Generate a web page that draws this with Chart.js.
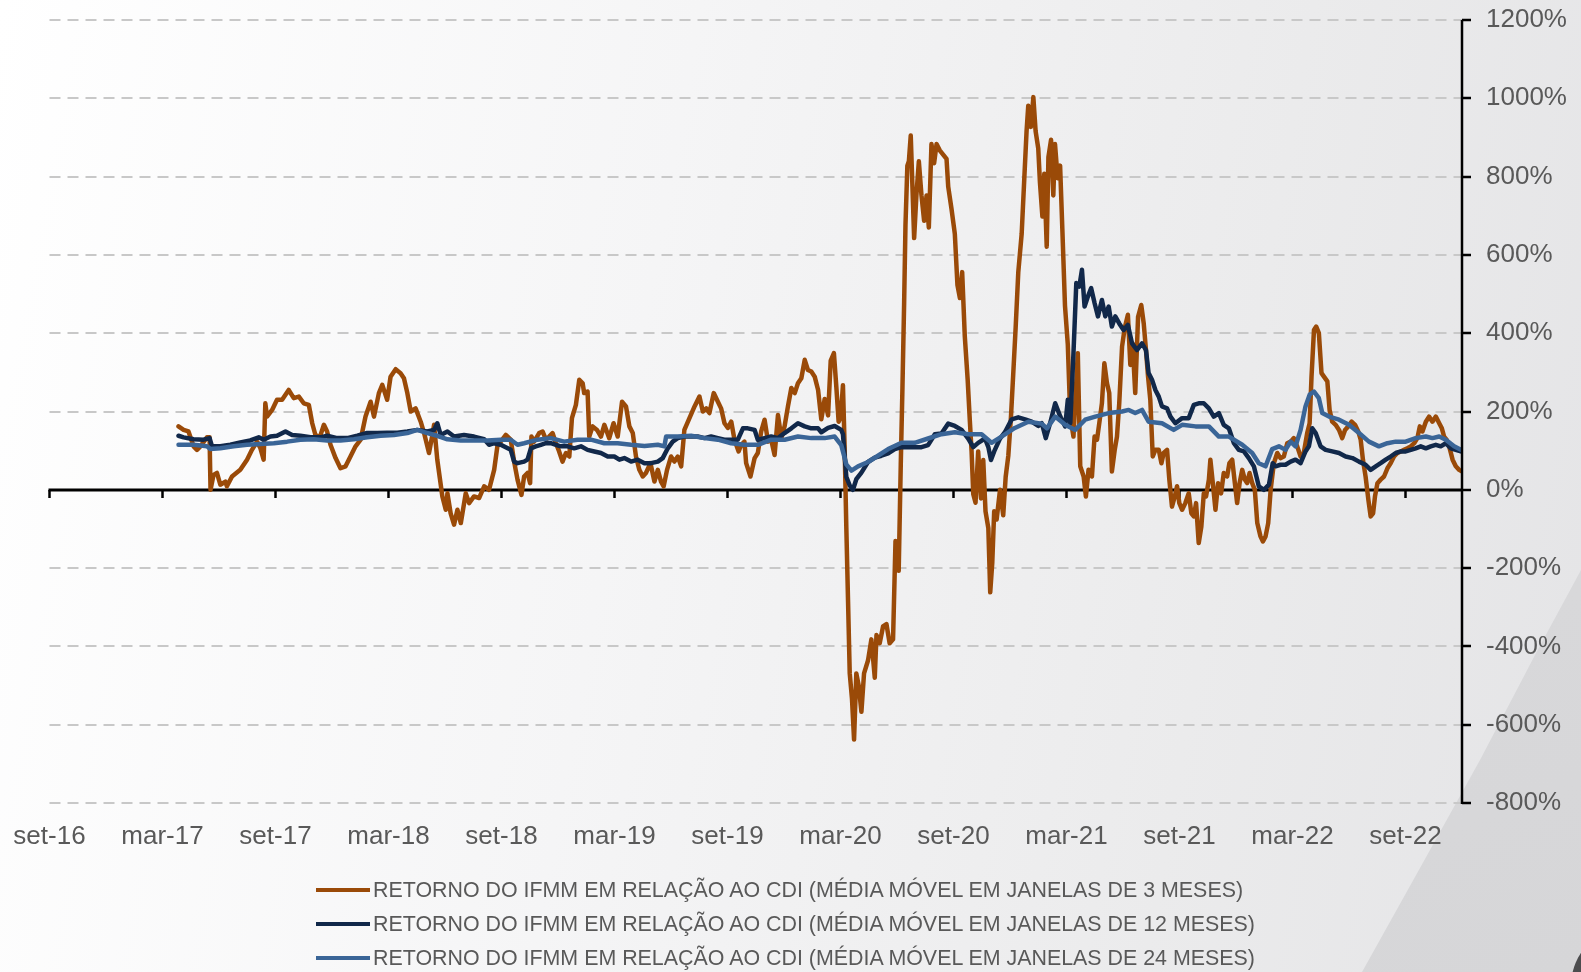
<!DOCTYPE html>
<html>
<head>
<meta charset="utf-8">
<script src="https://cdn.jsdelivr.net/npm/chart.js@4.4.1/dist/chart.umd.min.js"></script>
<style>
  html, body { margin: 0; padding: 0; }
  body { width: 1581px; height: 972px; overflow: hidden; position: relative;
    background: linear-gradient(100deg, #ffffff 0%, #f5f5f6 40%, #ebebec 75%, #e4e4e6 100%);
    font-family: "Liberation Sans", Arial, sans-serif; }
  #wedge { position: absolute; left: 0; top: 0; width: 1581px; height: 972px;
    background: linear-gradient(160deg, #dedee0 0%, #d6d6d8 100%);
    clip-path: polygon(1581px 570px, 1581px 972px, 1362px 972px, 1420px 868px, 1480px 760px, 1535px 655px); }
  #corner { position: absolute; left: 1571px; top: 926px; width: 60px; height: 120px;
    border-radius: 60px 0 0 0; background: #4c4c4e; }
  #wrap { position: absolute; left: 0; top: 0; width: 1581px; height: 972px; }
  .leg { position: absolute; left: 316px; height: 34px; display: flex; align-items: center;
    font-size: 21.4px; color: #595959; white-space: nowrap; }
  .leg span.sw { display: inline-block; width: 54px; height: 4px; margin-right: 3px; }
</style>
</head>
<body>
<div id="wedge"></div>
<div id="corner"></div>
<div id="wrap"><canvas id="c"></canvas></div>
<div class="leg" style="top:873px"><span class="sw" style="background:#9a4a08"></span>RETORNO DO IFMM EM RELAÇÃO AO CDI (MÉDIA MÓVEL EM JANELAS DE 3 MESES)</div>
<div class="leg" style="top:907px"><span class="sw" style="background:#11284a"></span>RETORNO DO IFMM EM RELAÇÃO AO CDI (MÉDIA MÓVEL EM JANELAS DE 12 MESES)</div>
<div class="leg" style="top:941px"><span class="sw" style="background:#3a6597"></span>RETORNO DO IFMM EM RELAÇÃO AO CDI (MÉDIA MÓVEL EM JANELAS DE 24 MESES)</div>
<script>
// x = months since set-16
const xTickLabels = ['set-16','mar-17','set-17','mar-18','set-18','mar-19','set-19','mar-20','set-20','mar-21','set-21','mar-22','set-22'];
const xTickMonths = [0,6,12,18,24,30,36,42,48,54,60,66,72];

const m3Months = [6.85,7.12,7.38,7.65,7.83,8.01,8.36,8.50,8.55,8.71,8.89,9.07,9.34,9.42,9.69,10.13,10.49,10.75,11.02,11.20,11.37,11.46,11.55,11.82,12.08,12.35,12.70,12.97,13.24,13.50,13.77,13.95,14.12,14.35,14.57,14.74,14.92,15.19,15.45,15.72,15.98,16.25,16.52,16.78,17.05,17.23,17.49,17.67,17.93,18.11,18.38,18.64,18.82,19.00,19.18,19.44,19.71,19.89,20.15,20.33,20.42,20.59,20.86,21.04,21.13,21.30,21.48,21.66,21.84,22.10,22.28,22.54,22.81,23.08,23.34,
23.61,23.78,23.96,24.23,24.49,24.67,24.85,25.06,25.20,25.38,25.52,25.59,25.73,26.00,26.18,26.36,26.53,26.71,26.89,27.06,27.24,27.42,27.60,27.74,27.95,28.13,28.31,28.39,28.57,28.66,28.84,29.07,29.28,29.46,29.72,29.95,30.17,30.40,30.61,30.79,30.97,31.14,31.32,31.50,31.67,31.91,32.12,32.30,32.47,32.61,32.79,33.00,33.18,33.36,33.54,33.71,33.98,34.25,34.51,34.69,34.87,35.04,35.27,35.49,35.66,35.84,36.02,36.20,36.37,36.59,36.73,36.90,36.99,37.22,37.44,37.61,37.79,37.97,38.15,38.32,38.50,38.68,38.86,39.03,39.21,39.39,39.57,39.74,39.92,40.10,40.27,40.45,40.63,40.81,
40.98,41.16,41.34,41.48,41.65,41.78,41.90,42.01,42.13,42.22,42.31,42.40,42.49,42.61,42.72,42.84,42.97,43.11,43.25,43.46,43.64,43.82,43.91,44.08,44.26,44.44,44.61,44.79,44.92,45.09,45.20,45.29,45.38,45.45,45.55,45.63,45.73,45.82,45.91,46.03,46.16,46.30,46.44,46.57,46.69,46.83,46.97,47.10,47.27,47.45,47.63,47.72,47.89,48.07,48.21,48.34,48.46,48.60,48.75,48.87,48.96,49.05,49.17,49.31,49.46,49.58,49.70,49.85,49.95,50.06,50.16,50.29,50.47,50.64,50.77,50.91,51.05,51.17,51.30,51.44,51.62,51.76,51.88,51.97,52.11,52.24,52.36,52.50,52.59,52.72,52.82,52.95,53.04,53.18,53.30,53.39,53.53,53.66,53.78,53.92,
54.07,54.20,54.37,54.60,54.73,54.91,55.03,55.17,55.35,55.49,55.62,55.74,55.88,56.01,56.15,56.27,56.41,56.56,56.68,56.80,56.95,57.09,57.26,57.39,57.51,57.65,57.80,57.97,58.10,58.22,58.33,58.45,58.58,58.72,58.90,59.04,59.16,59.34,59.46,59.60,59.75,59.87,59.99,60.14,60.31,60.49,60.63,60.76,60.88,61.02,61.16,61.29,61.41,61.56,61.64,61.77,61.91,62.05,62.21,62.35,62.53,62.65,62.80,62.94,63.06,63.19,63.33,63.47,63.59,63.72,63.86,64.00,64.13,64.30,64.43,64.57,64.71,64.84,
65.01,65.19,65.36,65.54,65.72,65.90,66.07,66.25,66.43,66.60,66.78,66.91,67.01,67.14,67.26,67.40,67.54,67.67,67.85,67.97,68.11,68.29,68.47,68.64,68.79,68.96,69.14,69.32,69.49,69.62,69.74,69.88,70.03,70.15,70.28,70.38,70.51,70.68,70.86,71.04,71.21,71.39,71.57,71.75,71.92,72.10,72.28,72.46,72.63,72.76,72.90,73.08,73.25,73.43,73.61,73.79,73.93,74.05,74.18,74.32,74.50,74.67,74.85,74.99];
const m3Values = [162,153,149,111,102,111,134,134,0,38,43,13,21,9,34,51,77,102,123,106,77,221,187,204,230,230,255,234,238,221,217,170,140,134,166,149,115,81,55,60,85,111,128,187,225,187,247,268,230,289,308,298,285,247,200,208,174,145,94,140,166,77,-17,-51,-9,-60,-89,-51,-85,-9,-34,-17,-21,9,0,
51,111,123,140,128,72,26,-13,34,43,17,136,123,145,149,128,136,145,119,98,72,94,85,183,217,281,272,247,251,136,162,153,136,166,132,170,136,225,213,162,145,85,51,34,43,68,21,51,21,9,51,85,72,85,60,153,183,213,238,200,208,196,247,225,208,170,158,174,128,98,115,123,68,34,81,94,149,179,123,128,89,191,132,162,213,260,247,272,285,332,306,302,289,255,
180,232,190,330,349,262,174,185,267,109,-98,-283,-469,-534,-638,-469,-501,-567,-469,-436,-382,-480,-371,-392,-349,-343,-392,-382,-131,-207,65,262,480,676,828,839,905,774,643,752,839,752,687,752,670,883,834,883,867,856,845,774,719,654,523,490,556,392,283,174,98,-11,-33,98,-22,76,-55,-98,-262,-185,-55,-76,0,-65,33,87,185,294,414,556,654,796,916,981,927,1003,916,872,785,698,807,621,850,894,752,883,796,828,665,470,
370,187,136,349,60,34,-17,51,34,136,128,170,221,323,272,247,47,102,136,221,366,413,447,319,374,247,442,472,425,357,289,230,85,102,102,68,94,102,26,-43,-17,9,-34,-51,-34,-9,-60,-68,-34,-136,-94,-9,-17,26,77,17,-51,17,-9,43,34,68,77,17,-34,17,51,26,17,43,17,0,-85,-119,-132,-119,-85,0,
68,94,81,85,119,123,132,111,85,94,145,170,289,408,417,400,298,289,277,204,174,166,153,132,153,162,174,166,149,128,77,34,-26,-68,-60,-17,17,26,34,55,68,85,94,98,102,106,111,119,132,162,149,174,187,174,187,170,157,136,128,111,77,60,51,47];

const m12Months = [6.85,7.12,7.65,8.18,8.50,8.63,9.07,9.60,10.13,10.66,11.11,11.37,11.73,12.08,12.53,12.88,13.32,13.86,14.39,14.74,15.28,15.81,16.34,16.87,17.40,17.93,18.47,19.00,19.53,20.06,20.42,20.59,20.77,21.13,21.48,22.01,22.54,23.08,23.34,
23.61,23.96,24.49,24.67,24.85,25.20,25.38,25.56,25.82,26.09,26.36,26.62,26.89,27.15,27.51,27.86,28.22,28.57,28.93,29.28,29.64,29.99,30.26,30.52,30.88,31.23,31.59,31.94,32.30,32.56,32.83,33.09,33.36,33.71,34.07,34.42,34.78,35.13,35.49,35.84,36.20,36.55,36.82,37.08,37.44,37.61,37.97,38.32,38.68,39.03,39.39,39.74,40.10,40.45,40.81,
40.98,41.34,41.69,42.04,42.13,42.31,42.49,42.66,42.84,43.11,43.46,43.82,44.17,44.53,44.88,45.24,45.59,45.94,46.30,46.65,47.01,47.36,47.72,48.07,48.43,48.78,49.05,49.31,49.67,49.85,49.99,50.16,50.47,50.73,51.09,51.44,51.80,52.15,52.50,
52.69,52.90,53.13,53.40,53.67,53.93,54.07,54.20,54.37,54.52,54.68,54.82,54.96,55.14,55.31,55.49,55.67,55.88,56.06,56.24,56.41,56.59,56.80,57.03,57.26,57.48,57.74,58.01,58.22,58.36,58.54,58.72,58.90,59.07,59.34,59.52,59.78,60.14,60.49,60.76,61.02,61.29,61.56,61.82,62.09,62.35,62.62,62.89,63.15,63.42,63.68,63.95,64.21,64.48,64.75,
64.95,65.10,65.36,65.63,65.90,66.16,66.43,66.69,66.87,67.05,67.23,67.49,67.76,68.11,68.47,68.82,69.18,69.53,69.88,70.15,70.42,70.68,70.95,71.21,71.48,71.75,72.01,72.28,72.54,72.81,73.08,73.34,73.61,73.87,74.14,74.41,74.67,74.94];
const m12Values = [138,134,129,128,132,111,111,115,121,126,134,128,136,138,149,140,138,134,134,138,132,132,138,145,145,146,146,149,153,149,153,170,140,149,136,140,136,129,115,
119,115,102,72,68,72,77,106,111,115,119,119,115,111,111,106,111,102,98,94,85,85,77,81,72,77,68,68,72,81,106,123,132,136,136,136,132,136,132,128,128,128,157,157,153,128,132,136,132,145,157,170,162,157,157,
147,158,163,153,142,33,11,0,27,44,71,82,87,93,104,109,109,109,109,114,142,144,169,163,153,131,109,120,131,109,76,98,131,147,180,185,180,174,163,
170,132,170,221,187,162,230,170,349,528,519,562,468,494,515,477,443,485,443,468,417,443,425,408,421,374,357,374,357,298,281,255,238,213,208,187,170,183,183,217,221,221,208,187,196,166,157,119,102,98,81,60,9,0,13,
68,60,64,64,72,77,68,98,111,157,145,111,102,98,94,85,81,72,64,51,60,68,77,85,94,98,98,102,106,111,106,111,115,111,119,106,102,98];

const m24Months = [6.85,7.65,8.36,8.54,9.07,9.78,10.49,11.20,11.91,12.62,13.32,14.03,14.74,15.45,16.16,16.87,17.58,18.29,19.00,19.53,20.06,20.59,21.13,21.84,22.54,23.25,
23.96,24.49,24.85,25.20,25.91,26.62,27.33,28.04,28.75,29.46,30.17,30.88,31.59,32.30,32.65,32.74,33.36,34.07,34.78,35.49,36.20,36.90,37.61,38.32,39.03,39.74,40.45,
41.16,41.69,42.04,42.31,42.58,42.93,43.46,43.99,44.53,45.24,45.94,46.65,47.36,48.07,48.78,49.49,50.02,50.55,51.26,51.97,52.68,
52.96,53.40,53.93,54.46,54.99,55.53,56.24,56.95,57.30,57.65,58.01,58.36,59.07,59.69,60.14,60.85,61.56,62.09,62.62,63.33,63.86,64.21,64.57,64.92,
65.28,65.63,65.90,66.16,66.43,66.69,66.91,67.14,67.40,67.58,67.94,68.47,69.00,69.53,70.06,70.59,71.04,71.48,72.01,72.54,73.08,73.43,73.79,74.14,74.58,74.94];
const m24Values = [115,115,111,104,106,111,115,117,119,123,128,129,126,126,129,134,138,140,145,153,145,138,129,126,126,126,
128,128,115,119,128,132,123,128,128,119,119,115,112,115,111,136,136,138,132,128,119,115,115,128,128,136,132,
132,136,114,65,49,60,71,87,104,120,120,131,142,147,142,142,120,136,158,174,169,
157,187,166,153,179,187,196,200,204,196,204,174,170,153,166,162,162,136,136,115,94,68,60,104,
111,102,123,111,153,213,243,251,234,196,187,179,166,145,123,111,119,123,123,132,136,132,136,128,111,102];

const yMin = -800, yMax = 1200, yStep = 200;

function pts(xs, ys) { return xs.map((x, i) => ({ x: x, y: ys[i] })); }

const axesPlugin = {
  id: 'axesPlugin',
  beforeDatasetsDraw(chart) {
    const { ctx, chartArea: a, scales: { x, y } } = chart;
    ctx.save();
    ctx.strokeStyle = '#c8c8c8';
    ctx.lineWidth = 2;
    ctx.setLineDash([11, 7]);
    for (let v = yMin; v <= yMax; v += yStep) {
      if (v === 0) continue;
      const py = Math.round(y.getPixelForValue(v));
      ctx.beginPath(); ctx.moveTo(a.left, py); ctx.lineTo(a.right, py); ctx.stroke();
    }
    ctx.setLineDash([]);
    const y0 = Math.round(y.getPixelForValue(0));
    ctx.strokeStyle = '#000';
    ctx.lineWidth = 3;
    ctx.beginPath(); ctx.moveTo(a.left - 1, y0); ctx.lineTo(a.right, y0); ctx.stroke();
    ctx.lineWidth = 2.5;
    xTickMonths.forEach(m => {
      const px = x.getPixelForValue(m);
      ctx.beginPath(); ctx.moveTo(px, y0); ctx.lineTo(px, y0 + 8); ctx.stroke();
    });
    ctx.restore();
  },
  afterDatasetsDraw(chart) {
    const { ctx, chartArea: a, scales: { y } } = chart;
    ctx.save();
    ctx.strokeStyle = '#000';
    ctx.lineWidth = 2.5;
    ctx.beginPath(); ctx.moveTo(a.right, a.top); ctx.lineTo(a.right, a.bottom + 1); ctx.stroke();
    for (let v = yMin; v <= yMax; v += yStep) {
      const py = Math.round(y.getPixelForValue(v));
      ctx.beginPath(); ctx.moveTo(a.right, py); ctx.lineTo(a.right + 9, py); ctx.stroke();
    }
    ctx.restore();
  }
};

new Chart(document.getElementById('c'), {
  type: 'line',
  data: {
    datasets: [
      { label: 'RETORNO DO IFMM EM RELAÇÃO AO CDI (MÉDIA MÓVEL EM JANELAS DE 3 MESES)',
        data: pts(m3Months, m3Values), borderColor: '#9a4a08', borderWidth: 4.5, order: 3 },
      { label: 'RETORNO DO IFMM EM RELAÇÃO AO CDI (MÉDIA MÓVEL EM JANELAS DE 12 MESES)',
        data: pts(m12Months, m12Values), borderColor: '#11284a', borderWidth: 4.5, order: 2 },
      { label: 'RETORNO DO IFMM EM RELAÇÃO AO CDI (MÉDIA MÓVEL EM JANELAS DE 24 MESES)',
        data: pts(m24Months, m24Values), borderColor: '#3a6597', borderWidth: 4.5, order: 1 }
    ]
  },
  options: {
    responsive: true,
    maintainAspectRatio: false,
    animation: false,
    parsing: false,
    elements: { point: { radius: 0 }, line: { tension: 0, borderJoinStyle: 'round', borderCapStyle: 'round' } },
    layout: { padding: { left: 49.5, top: 20, right: 0, bottom: 0 } },
    plugins: { legend: { display: false }, tooltip: { enabled: false } },
    scales: {
      x: {
        type: 'linear', min: 0, max: 75,
        grid: { display: false, drawTicks: false },
        border: { display: false },
        afterBuildTicks: s => { s.ticks = xTickMonths.map(v => ({ value: v })); },
        afterFit: s => { s.height = 169; s.paddingLeft = 0; s.paddingRight = 0; },
        ticks: {
          autoSkip: false, maxRotation: 0, padding: 18,
          color: '#595959', font: { family: '"Liberation Sans", Arial, sans-serif', size: 26 },
          callback: (v) => { const i = xTickMonths.indexOf(v); return i >= 0 ? xTickLabels[i] : ''; }
        }
      },
      y: {
        position: 'right', min: yMin, max: yMax,
        grid: { display: false, drawTicks: false },
        border: { display: false },
        afterFit: s => { s.width = 119; s.paddingTop = 0; s.paddingBottom = 0; },
        ticks: {
          stepSize: yStep, padding: 24,
          color: '#595959', font: { family: '"Liberation Sans", Arial, sans-serif', size: 26 },
          callback: v => v + '%'
        }
      }
    }
  },
  plugins: [axesPlugin]
});
</script>
</body>
</html>
